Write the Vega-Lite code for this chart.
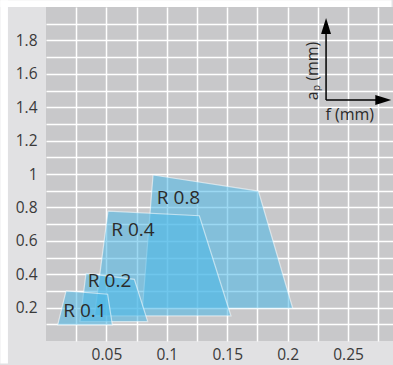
{
  "$schema": "https://vega.github.io/schema/vega-lite/v6.json",
  "width": 347,
  "height": 334,
  "autosize": {"type": "none"},
  "padding": {"left": 46, "top": 7, "right": 0, "bottom": 24},
  "background": "#e1e1e3",
  "view": {"fill": "#c8c8ca", "stroke": null},
  "config": {
    "font": "Open Sans, sans-serif",
    "axis": {
      "grid": true, "gridColor": "#ffffff", "gridWidth": 1.5, "gridOpacity": 1,
      "ticks": false, "domain": false, "title": null,
      "labelFont": "Open Sans, sans-serif", "labelOverlap": false, "labelBound": false,
      "labelFontSize": 15.5, "labelColor": "#3a3a3a", "labelFlush": false
    }
  },
  "datasets": {
    "zones": [
      {"zone": "R 0.8", "idx": 1, "f": 0.0886, "ap": 0.994},
      {"zone": "R 0.8", "idx": 2, "f": 0.1758, "ap": 0.898},
      {"zone": "R 0.8", "idx": 3, "f": 0.2042, "ap": 0.196},
      {"zone": "R 0.8", "idx": 4, "f": 0.0798, "ap": 0.196},
      {"zone": "R 0.8", "idx": 5, "f": 0.0886, "ap": 0.994},
      {"zone": "R 0.4", "idx": 1, "f": 0.0513, "ap": 0.778},
      {"zone": "R 0.4", "idx": 2, "f": 0.1269, "ap": 0.750},
      {"zone": "R 0.4", "idx": 3, "f": 0.1531, "ap": 0.150},
      {"zone": "R 0.4", "idx": 4, "f": 0.0401, "ap": 0.150},
      {"zone": "R 0.4", "idx": 5, "f": 0.0513, "ap": 0.778},
      {"zone": "R 0.2", "idx": 1, "f": 0.0331, "ap": 0.405},
      {"zone": "R 0.2", "idx": 2, "f": 0.0731, "ap": 0.369},
      {"zone": "R 0.2", "idx": 3, "f": 0.0842, "ap": 0.116},
      {"zone": "R 0.2", "idx": 4, "f": 0.0281, "ap": 0.116},
      {"zone": "R 0.2", "idx": 5, "f": 0.0331, "ap": 0.405},
      {"zone": "R 0.1", "idx": 1, "f": 0.0166, "ap": 0.300},
      {"zone": "R 0.1", "idx": 2, "f": 0.0510, "ap": 0.280},
      {"zone": "R 0.1", "idx": 3, "f": 0.0549, "ap": 0.096},
      {"zone": "R 0.1", "idx": 4, "f": 0.0097, "ap": 0.096},
      {"zone": "R 0.1", "idx": 5, "f": 0.0166, "ap": 0.300}
    ],
    "labels": [
      {"zone": "R 0.1", "f": 0.0323, "ap": 0.180},
      {"zone": "R 0.2", "f": 0.0526, "ap": 0.359},
      {"zone": "R 0.4", "f": 0.0720, "ap": 0.662},
      {"zone": "R 0.8", "f": 0.1097, "ap": 0.858}
    ],
    "strips": [
      {"f": -0.0378, "f2": -0.0315, "ap": -0.135, "ap2": 2.04},
      {"f": -0.0378, "f2": 0.286, "ap": 2.0, "ap2": 2.04}
    ],
    "shafts": [
      {"f": 0.2318, "f2": 0.2318, "ap": 1.443, "ap2": 1.89},
      {"f": 0.2318, "f2": 0.278, "ap": 1.443, "ap2": 1.443}
    ],
    "headUp": [{"f": 0.2318, "ap": 1.886}],
    "headRight": [{"f": 0.2792, "ap": 1.443}],
    "inset": [{"t": "f (mm)", "f": 0.2514, "ap": 1.353}],
    "insetY": [{"t": "aₚ (mm)", "f": 0.2212, "ap": 1.617}]
  },
  "encoding": {
    "x": {"field": "f", "type": "quantitative", "scale": {"domain": [0, 0.2872], "nice": false, "zero": false},
      "axis": {"values": [0.025, 0.05, 0.075, 0.1, 0.125, 0.15, 0.175, 0.2, 0.225, 0.25, 0.275],
        "labelExpr": "round(datum.value*1000) % 50 == 0 ? format(datum.value, '.2~f') : ''", "labelPadding": 6}},
    "y": {"field": "ap", "type": "quantitative", "scale": {"domain": [0, 2], "nice": false},
      "axis": {"values": [0.1, 0.2, 0.3, 0.4, 0.5, 0.6, 0.7, 0.8, 0.9, 1, 1.1, 1.2, 1.3, 1.4, 1.5, 1.6, 1.7, 1.8, 1.9],
        "labelExpr": "round(datum.value*10) % 2 == 0 ? format(datum.value, '.1~f') : ''", "labelPadding": 9}}
  },
  "layer": [
    {
      "data": {"name": "zones"},
      "mark": {"type": "line", "fill": "#4ab8e8", "fillOpacity": 0.55, "stroke": "#ffffff", "strokeOpacity": 0.55, "strokeWidth": 1.2, "strokeJoin": "miter"},
      "encoding": {
        "detail": {"field": "zone"},
        "order": {"field": "idx"}
      }
    },
    {
      "data": {"name": "labels"},
      "mark": {"type": "text", "fontSize": 19, "color": "#2b2b2b", "align": "center", "baseline": "middle"},
      "encoding": {"text": {"field": "zone"}}
    },
    {
      "data": {"name": "strips"},
      "mark": {"type": "rect", "color": "#ffffff", "clip": false},
      "encoding": {"x2": {"field": "f2"}, "y2": {"field": "ap2"}}
    },
    {
      "data": {"name": "shafts"},
      "mark": {"type": "rule", "color": "#000000", "strokeWidth": 1.5},
      "encoding": {"x2": {"field": "f2"}, "y2": {"field": "ap2"}}
    },
    {
      "data": {"name": "headUp"},
      "mark": {"type": "point", "shape": "M0,-1L0.62,1L-0.62,1Z", "filled": true, "color": "#000000", "opacity": 1, "size": 256}
    },
    {
      "data": {"name": "headRight"},
      "mark": {"type": "point", "shape": "M1,0L-1,0.62L-1,-0.62Z", "filled": true, "color": "#000000", "opacity": 1, "size": 256}
    },
    {
      "data": {"name": "inset"},
      "mark": {"type": "text", "fontSize": 16, "color": "#2b2b2b", "align": "center", "baseline": "middle"},
      "encoding": {"text": {"field": "t"}}
    },
    {
      "data": {"name": "insetY"},
      "mark": {"type": "text", "fontSize": 16, "angle": 270, "color": "#2b2b2b", "align": "center", "baseline": "middle"},
      "encoding": {"text": {"field": "t"}}
    }
  ]
}
